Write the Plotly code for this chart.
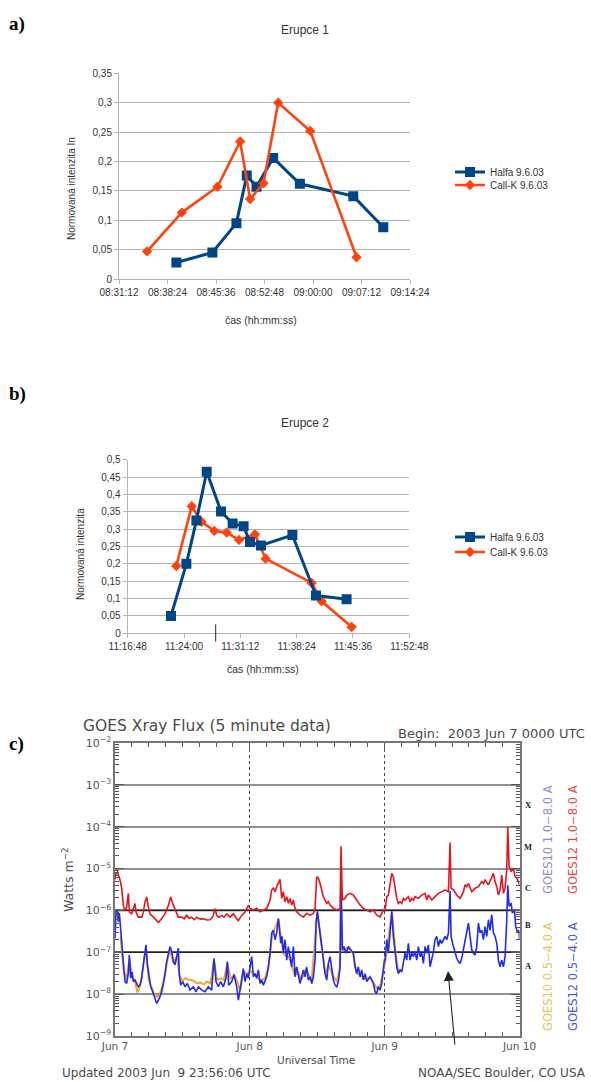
import plotly.graph_objects as go

W, H = 591, 1082


def px(x):
    return x / W


def py(y):
    return 1 - y / H


DAY = "2003-06-09 "

# ---- Erupce 1 ----
e1_halfa_time = ["08:39:43", "08:45:04", "08:48:38", "08:50:10", "08:51:37",
                 "08:54:05", "08:58:03", "09:05:59", "09:10:26"]
e1_halfa_val = [0.028, 0.045, 0.095, 0.176, 0.157, 0.206, 0.162, 0.141, 0.088]
e1_callk_time = ["08:35:22", "08:40:31", "08:45:49", "08:49:11", "08:50:40",
                 "08:52:39", "08:54:50", "08:59:35", "09:06:28"]
e1_callk_val = [0.047, 0.113, 0.157, 0.234, 0.136, 0.163, 0.300, 0.252, 0.037]
e1_xticks = ["08:31:12", "08:38:24", "08:45:36", "08:52:48", "09:00:00",
             "09:07:12", "09:14:24"]
e1_yticks = [0, 0.05, 0.1, 0.15, 0.2, 0.25, 0.3, 0.35]
e1_ylabels = ["0", "0,05", "0,1", "0,15", "0,2", "0,25", "0,3", "0,35"]

# ---- Erupce 2 ----
e2_halfa_time = ["11:22:20", "11:24:18", "11:25:35", "11:26:54", "11:28:44",
                 "11:30:13", "11:31:37", "11:32:26", "11:33:50", "11:37:51",
                 "11:40:52", "11:44:47"]
e2_halfa_val = [0.050, 0.200, 0.325, 0.465, 0.351, 0.316, 0.308, 0.263,
                0.253, 0.283, 0.109, 0.098]
e2_callk_time = ["11:23:01", "11:24:59", "11:26:15", "11:27:53", "11:29:27",
                 "11:31:02", "11:33:04", "11:34:26", "11:40:19", "11:41:36",
                 "11:45:26"]
e2_callk_val = [0.194, 0.366, 0.321, 0.295, 0.290, 0.269, 0.285, 0.215,
                0.145, 0.092, 0.018]
e2_xticks = ["11:16:48", "11:24:00", "11:31:12", "11:38:24", "11:45:36",
             "11:52:48"]
e2_yticks = [0, 0.05, 0.1, 0.15, 0.2, 0.25, 0.3, 0.35, 0.4, 0.45, 0.5]
e2_ylabels = ["0", "0,05", "0,1", "0,15", "0,2", "0,25", "0,3", "0,35",
              "0,4", "0,45", "0,5"]
e2_marker_time = "11:28:03"

# ---- GOES X-ray flux, hours since 2003 Jun 7 00:00 UTC ----
goes12_long_h = [
    0.0, 0.18, 0.42, 0.89, 1.19, 1.48, 1.78, 2.08, 2.37, 2.55, 2.97, 3.26,
    3.56, 3.74, 4.15, 4.75, 5.04, 5.34, 5.64, 5.94, 6.23, 6.83, 7.42, 7.72,
    8.31, 8.90, 9.50, 9.91, 10.39, 10.98, 11.28, 11.87, 12.3, 12.76, 13.2,
    13.65, 14.1, 14.54, 15.2, 15.73, 16.3, 16.91, 17.4, 17.81, 18.10, 18.5,
    18.99, 19.4, 19.88, 20.48, 21.07, 21.5, 21.96, 22.55, 23.15, 23.74,
    24.04, 24.63, 25.22, 25.82, 26.41, 27.01, 27.60, 27.89, 28.19, 28.49,
    28.78, 29.08, 29.37, 29.67, 29.97, 30.26, 30.56, 30.86, 31.15, 31.45,
    31.75, 32.04, 32.34, 32.94, 33.53, 34.12, 34.72, 35.31, 35.61, 35.90,
    36.20, 36.50, 36.79, 37.09, 37.68, 37.98, 38.28, 38.87, 39.46, 40.06,
    40.23, 40.47, 40.95, 41.24, 41.84, 42.43, 43.02, 43.62, 44.21, 44.81,
    45.40, 45.99, 46.59, 47.18, 47.78,
    48.07, 48.37, 48.66, 48.96, 49.26, 49.55, 49.85, 50.15, 50.44, 50.74,
    51.04, 51.33, 51.63, 52.22, 52.52, 52.82, 53.11, 53.41, 54.00, 54.60,
    55.19, 55.49, 55.79, 56.38, 56.97, 57.57, 58.16, 58.75, 59.35, 59.64,
    59.82, 60.24, 60.83, 61.42, 62.02, 62.31, 62.61, 62.91, 63.50, 64.09,
    64.69, 65.28, 65.58, 65.87, 66.47, 67.06, 67.36, 67.65, 67.95, 68.25,
    68.54, 68.84, 69.14, 69.43, 69.73, 69.91, 70.15, 70.50, 70.92, 71.22,
    71.51, 71.81, 72.0]
goes12_long_flux = [
    5.5e-6, 7.8e-6, 8.3e-6, 5.4e-6, 3.4e-6, 1.32e-6, 1.0e-6, 1.2e-6, 2.55e-6,
    9.1e-7, 8.3e-7, 1.1e-6, 1.46e-6, 9.1e-7, 6.9e-7, 6.9e-7, 9.1e-7, 1.6e-6,
    2.1e-6, 1.2e-6, 8.3e-7, 6.9e-7, 5.7e-7, 5.2e-7, 6.3e-7, 8.3e-7, 1.32e-6,
    2.1e-6, 1.32e-6, 9.1e-7, 6.9e-7, 6.9e-7, 6.3e-7, 7.6e-7, 6.4e-7, 6.9e-7,
    6.0e-7, 6.9e-7, 6.2e-7, 6.3e-7, 5.9e-7, 6.0e-7, 7.0e-7, 1.1e-6, 7.6e-7,
    6.8e-7, 7.6e-7, 6.9e-7, 8.3e-7, 6.9e-7, 8.3e-7, 6.8e-7, 5.7e-7, 7.6e-7,
    9.1e-7, 1.32e-6,
    1.12e-6, 1.02e-6, 1.12e-6, 9.3e-7, 1.02e-6, 1.12e-6, 1.77e-6, 3.1e-6,
    3.4e-6, 2.8e-6, 3.7e-6, 4.4e-6, 5.5e-6, 1.94e-6, 2.8e-6, 1.61e-6,
    2.13e-6, 1.47e-6, 1.94e-6, 1.34e-6, 1.77e-6, 1.12e-6, 9.3e-7, 7.7e-7,
    7.0e-7, 8.5e-7, 7.7e-7, 8.5e-7, 1.12e-6, 6.4e-6, 5.9e-6, 4.4e-6, 2.8e-6,
    2.13e-6, 1.47e-6, 1.61e-6, 1.34e-6, 1.12e-6, 1.02e-6, 1.12e-6, 3.4e-5,
    1.77e-6, 1.94e-6, 2.33e-6, 2.56e-6, 2.33e-6, 1.77e-6, 1.34e-6, 1.12e-6,
    1.02e-6, 9.3e-7, 1.02e-6, 7.7e-7, 7.0e-7, 1.02e-6,
    1.02e-6, 2.13e-6, 2.33e-6, 4.4e-6, 7.7e-6, 6.4e-6, 3.7e-6, 1.94e-6,
    1.47e-6, 1.61e-6, 1.47e-6, 1.94e-6, 1.77e-6, 2.13e-6, 1.61e-6, 1.94e-6,
    1.77e-6, 2.13e-6, 1.94e-6, 2.33e-6, 2.56e-6, 1.77e-6, 2.33e-6, 1.77e-6,
    2.13e-6, 2.56e-6, 2.8e-6, 3.1e-6, 2.8e-6, 4.2e-5, 3.4e-6, 3.1e-6, 2.33e-6,
    1.94e-6, 2.8e-6, 4.1e-6, 3.7e-6, 4.4e-6, 2.8e-6, 3.4e-6, 3.7e-6, 4.9e-6,
    4.4e-6, 5.3e-6, 4.1e-6, 6.4e-6, 7.7e-6, 4.9e-6, 3.7e-6, 2.33e-6, 3.1e-6,
    7.0e-6, 2.56e-6, 3.4e-6, 9.3e-6, 1.0e-4, 1.12e-5, 8.5e-6, 1.02e-5, 6.4e-6,
    5.9e-6, 4.9e-6, 4.1e-6]

goes12_short_h = [
    0.0, 0.18, 0.42, 0.59, 0.77, 1.01, 1.19, 1.37, 1.60, 1.78, 2.08, 2.37,
    2.55, 2.79, 3.03, 3.26, 3.56, 3.86, 4.15, 4.45, 4.75, 5.04, 5.34, 5.52,
    5.76, 6.11, 6.35, 6.71, 7.12, 7.42, 7.89, 8.31, 8.61, 8.90, 9.20, 9.50,
    9.79, 10.09, 10.39, 10.68, 10.98, 11.28, 11.45, 11.69, 12.05, 12.46,
    12.88, 13.35, 13.95, 14.42, 14.84, 15.43, 16.02, 16.62, 17.21, 17.63,
    17.98, 18.40, 18.81, 19.29, 19.76, 20.00, 20.24, 20.77, 21.19, 21.66,
    21.96, 22.26, 22.55, 22.85, 23.15, 23.44, 23.74,
    24.04, 24.33, 24.63, 24.93, 25.22, 25.52, 25.82, 26.11, 26.41, 26.71,
    27.00, 27.30, 27.60, 27.89, 28.19, 28.49, 28.78, 29.08, 29.26, 29.50,
    29.73, 29.97, 30.27, 30.56, 30.86, 31.16, 31.45, 31.75, 32.05, 32.34,
    32.64, 32.94, 33.23, 33.53, 33.83, 34.12, 34.42, 34.72, 35.02, 35.31,
    35.61, 35.79, 36.02, 36.26, 36.50, 36.79, 37.09, 37.39, 37.69, 37.98,
    38.28, 38.58, 38.87, 39.17, 39.47, 39.76, 40.06, 40.24, 40.47, 40.77,
    41.13, 41.54, 41.96, 42.43, 42.73, 43.03, 43.32, 43.62, 43.92, 44.21,
    44.51, 44.81, 45.40, 45.70, 45.99, 46.29, 46.59, 46.88, 47.18, 47.48,
    47.77, 47.95,
    48.07, 48.37, 48.66, 48.96, 49.26, 49.55, 49.85, 50.15, 50.44, 50.74,
    51.04, 51.33, 51.63, 51.93, 52.22, 52.52, 52.82, 53.11, 53.41, 53.71,
    54.00, 54.30, 54.60, 54.89, 55.19, 55.49, 55.79, 56.08, 56.38, 56.68,
    56.97, 57.27, 57.57, 57.86, 58.16, 58.46, 58.75, 59.05, 59.35, 59.64,
    59.82, 60.24, 60.53, 60.83, 61.13, 61.42, 61.72, 62.02, 62.31, 62.61,
    62.91, 63.20, 63.50, 63.80, 64.09, 64.39, 64.69, 64.98, 65.28, 65.58,
    65.87, 66.17, 66.47, 66.76, 67.06, 67.36, 67.65, 67.95, 68.25, 68.54,
    68.84, 69.14, 69.43, 69.73, 69.91, 70.15, 70.50, 70.74, 71.10, 71.33,
    71.69, 71.93, 72.0]
goes12_short_flux = [
    2.17e-7, 9.5e-7, 1.04e-6, 5.4e-7, 8.6e-7, 2.6e-7, 1.8e-7, 8.6e-8, 2.9e-8,
    2.0e-8, 1.8e-8, 3.1e-8, 8.6e-8, 2.4e-8, 3.4e-8, 2.0e-8, 2.17e-8, 1.8e-8,
    1.5e-8, 1.64e-8, 2.4e-8, 5.0e-8, 8.6e-8, 1.5e-7, 5.0e-8, 2.0e-8, 1.5e-8,
    1.14e-8, 7.2e-9, 6.0e-9, 7.9e-9, 1.14e-8, 1.8e-8, 2.9e-8, 6.0e-8, 8.6e-8,
    1.37e-7, 1.04e-7, 6.0e-8, 5.0e-8, 8.6e-8, 1.25e-7, 2.9e-8, 1.64e-8,
    2.0e-8, 1.5e-8, 1.8e-8, 1.25e-8, 1.5e-8, 1.14e-8, 1.5e-8, 1.25e-8,
    1.14e-8, 1.5e-8, 1.25e-8, 7.2e-8, 2.0e-8, 1.5e-8, 2.0e-8, 1.5e-8,
    2.4e-8, 6.0e-8, 1.64e-8, 2.0e-8, 2.9e-8, 1.5e-8, 7.2e-9, 1.37e-8,
    2.4e-8, 4.1e-8, 2.0e-8, 3.1e-8, 2.4e-8,
    4.5e-8, 7.9e-8, 2.6e-8, 3.1e-8, 2.4e-8, 3.8e-8, 1.8e-8, 2.17e-8, 1.64e-8,
    2.17e-8, 2.6e-8, 4.5e-8, 9.5e-8, 2.9e-7, 3.4e-7, 2.0e-7, 2.9e-7, 6.5e-7,
    2.9e-7, 1.64e-7, 2.4e-7, 9.5e-8, 2.0e-7, 6.5e-8, 1.37e-7, 7.9e-8, 4.5e-8,
    1.37e-7, 2.6e-8, 4.5e-8, 3.1e-8, 1.8e-8, 2.6e-8, 3.8e-8, 2.6e-8, 4.5e-8,
    2.17e-8, 2.6e-8, 1.8e-8, 2.6e-8, 6.5e-8, 5.0e-7, 9.5e-7, 5.0e-7, 3.4e-7,
    1.64e-7, 6.5e-8, 3.1e-8, 2.17e-8, 5.4e-8, 7.9e-8, 3.8e-8, 2.17e-8,
    1.64e-8, 1.5e-8, 2.0e-8, 4.5e-8, 3.8e-6, 1.14e-7, 1.37e-7, 9.5e-8,
    1.37e-7, 1.14e-7, 9.5e-8, 4.5e-8, 3.1e-8, 4.5e-8, 2.6e-8, 3.8e-8,
    2.17e-8, 3.1e-8, 2.0e-8, 2.6e-8, 2.17e-8, 1.8e-8, 1.14e-8, 1.04e-8,
    1.5e-8, 1.25e-8, 1.8e-8, 4.5e-8, 6.5e-8,
    6.5e-8, 2.0e-7, 9.5e-8, 3.4e-7, 9.5e-7, 2.4e-7, 1.14e-7, 4.5e-8, 3.1e-8,
    3.8e-8, 3.4e-8, 5.4e-8, 9.5e-8, 6.5e-8, 1.64e-7, 6.5e-8, 9.5e-8, 7.9e-8,
    1.04e-7, 6.5e-8, 1.37e-7, 7.9e-8, 9.5e-8, 5.4e-8, 1.37e-7, 9.5e-8,
    1.5e-7, 4.5e-8, 6.5e-8, 1.04e-7, 2.0e-7, 2.4e-7, 1.37e-7, 2.0e-7,
    1.64e-7, 2.0e-7, 2.4e-7, 2.0e-7, 2.9e-7, 2.9e-6, 2.4e-7, 1.37e-7,
    9.5e-8, 7.2e-8, 6.0e-8, 5.4e-8, 7.2e-8, 1.14e-7, 1.64e-7, 2.6e-7,
    5.0e-7, 2.4e-7, 1.14e-7, 9.5e-8, 8.6e-8, 1.37e-7, 5.0e-7, 2.9e-7,
    3.4e-7, 2.0e-7, 4.1e-7, 2.4e-7, 6.0e-7, 3.4e-7, 7.9e-7, 2.9e-7, 2.4e-7,
    1.64e-7, 6.5e-8, 4.5e-8, 6.5e-8, 4.5e-8, 7.9e-8, 6.0e-7, 4.0e-6,
    1.25e-6, 1.5e-6, 8.6e-7, 1.04e-6, 4.1e-7, 2.9e-7, 3.4e-7, 2.0e-7]

goes10_short_h = [
    1.0, 1.5, 2.0, 2.6, 3.0, 3.6, 4.0, 4.5, 5.0, 5.5, 6.0, 6.5, 7.0, 7.5,
    8.0, 8.6, 9.2, 9.8, 10.4, 11.0, 11.5, 12.0, 12.6, 13.2, 14.0, 14.6,
    15.2, 15.8, 16.4, 17.0, 17.6, 18.2, 18.8, 19.4, 20.0, 20.6, 21.2, 21.8,
    22.3, 22.9, 23.5, 24.2, 25.0, 25.8, 26.6, 27.3, 28.0, 29.1, 30.0, 31.0,
    32.0, 32.6, 33.2, 34.0, 35.0, 35.8, 36.0, 36.8, 37.4, 38.0, 38.9, 39.5,
    40.0, 40.2, 40.5, 41.5, 42.4, 43.0, 43.6, 44.2, 44.8, 45.4, 46.0, 46.6,
    47.2, 47.8, 48.1, 49.3, 49.9, 50.4, 51.0]
goes10_short_flux = [
    2.4e-7, 4.0e-8, 2.2e-8, 7.0e-8, 3.0e-8, 1.9e-8, 1.1e-8, 1.6e-8, 4.5e-8,
    1.3e-7, 2.2e-8, 1.5e-8, 1.0e-8, 8.5e-9, 1.0e-8, 1.9e-8, 5.5e-8, 1.2e-7,
    5.5e-8, 8.0e-8, 2.8e-8, 2.1e-8, 2.4e-8, 2.2e-8, 2.1e-8, 1.8e-8, 1.9e-8,
    1.7e-8, 2.0e-8, 1.8e-8, 6.5e-8, 2.2e-8, 2.4e-8, 2.2e-8, 5.5e-8, 2.3e-8,
    2.9e-8, 1.9e-8, 1.2e-8, 3.5e-8, 3.0e-8, 3.5e-8, 2.8e-8, 2.2e-8, 2.3e-8,
    4.2e-8, 2.7e-7, 6.0e-7, 9.0e-8, 7.5e-8, 2.8e-8, 3.3e-8, 2.2e-8, 4.0e-8,
    2.1e-8, 4.8e-7, 9.0e-7, 1.5e-7, 3.0e-8, 5.0e-8, 2.6e-8, 2.0e-8, 4.0e-8,
    3.5e-6, 1.1e-7, 1.3e-7, 9.0e-8, 3.3e-8, 2.8e-8, 2.4e-8, 2.3e-8, 2.5e-8,
    1.9e-8, 1.4e-8, 1.6e-8, 4.0e-8, 6.0e-8, 9.0e-7, 1.1e-7, 3.6e-8, 3.8e-8]

goes_day_hours = [0, 24, 48, 72]
goes_day_labels = ["Jun 7", "Jun 8", "Jun 9", "Jun 10"]
goes_decades = [1e-9, 1e-8, 1e-7, 1e-6, 1e-5, 1e-4, 1e-3, 1e-2]
goes_decade_labels = ["10<sup>−9</sup>", "10<sup>−8</sup>", "10<sup>−7</sup>",
                      "10<sup>−6</sup>", "10<sup>−5</sup>", "10<sup>−4</sup>",
                      "10<sup>−3</sup>", "10<sup>−2</sup>"]
goes_dark_levels = [1e-6, 1e-7]
flare_classes = ["X", "M", "C", "B", "A"]
flare_class_y = [805, 847, 888, 925, 966]

BLUE = "#004586"
ORANGE = "#ff420e"
GRID = "#b3b3b3"
SANS = "Liberation Sans"
GOESFONT = "DejaVu Sans"

fig = go.Figure()

# Erupce 1
fig.add_trace(go.Scatter(
    x=[DAY + t for t in e1_halfa_time], y=e1_halfa_val, name="Halfa 9.6.03",
    mode="lines+markers", line=dict(color=BLUE, width=3),
    marker=dict(symbol="square", size=10, color=BLUE),
    xaxis="x", yaxis="y", legend="legend"))
fig.add_trace(go.Scatter(
    x=[DAY + t for t in e1_callk_time], y=e1_callk_val, name="Call-K 9.6.03",
    mode="lines+markers", line=dict(color=ORANGE, width=2.6),
    marker=dict(symbol="diamond", size=8, color=ORANGE),
    xaxis="x", yaxis="y", legend="legend2"))

# Erupce 2
fig.add_trace(go.Scatter(
    x=[DAY + t for t in e2_callk_time], y=e2_callk_val, name="Call-K 9.6.03",
    mode="lines+markers", line=dict(color=ORANGE, width=2.6),
    marker=dict(symbol="diamond", size=8, color=ORANGE),
    xaxis="x2", yaxis="y2", legend="legend4"))
fig.add_trace(go.Scatter(
    x=[DAY + t for t in e2_halfa_time], y=e2_halfa_val, name="Halfa 9.6.03",
    mode="lines+markers", line=dict(color=BLUE, width=3),
    marker=dict(symbol="square", size=10, color=BLUE),
    xaxis="x2", yaxis="y2", legend="legend3"))

# GOES reference levels
for lvl in goes_dark_levels:
    fig.add_trace(go.Scatter(
        x=[goes_day_hours[0], goes_day_hours[-1]], y=[lvl, lvl], mode="lines",
        line=dict(color="#222222", width=1.5), showlegend=False,
        hoverinfo="skip", xaxis="x3", yaxis="y3"))

fig.add_trace(go.Scatter(
    x=goes10_short_h, y=goes10_short_flux, mode="lines",
    line=dict(color="#f2a52a", width=2), showlegend=False,
    xaxis="x3", yaxis="y3"))
fig.add_trace(go.Scatter(
    x=goes12_short_h, y=goes12_short_flux, mode="lines",
    line=dict(color="#1f2cf0", width=1.6), showlegend=False,
    xaxis="x3", yaxis="y3"))
fig.add_trace(go.Scatter(
    x=goes12_long_h, y=goes12_long_flux, mode="lines",
    line=dict(color="#e8141c", width=1.6), showlegend=False,
    xaxis="x3", yaxis="y3"))

tick_font = dict(family=SANS, size=10, color="#333333")
legend_font = dict(family=SANS, size=10, color="#333333")

fig.update_layout(
    width=W, height=H,
    margin=dict(l=0, r=0, t=0, b=0, pad=0, autoexpand=False),
    paper_bgcolor="white", plot_bgcolor="white",
    font=dict(family=SANS, color="#333333"),
    xaxis=dict(
        domain=[px(119), px(410)], anchor="y", type="date",
        range=[DAY + e1_xticks[0], DAY + e1_xticks[-1]],
        tickvals=[DAY + t for t in e1_xticks], ticktext=e1_xticks,
        ticks="outside", ticklen=4, tickcolor=GRID, showline=True,
        linecolor=GRID, showgrid=False, zeroline=False, tickfont=tick_font),
    yaxis=dict(
        domain=[py(279), py(73.3)], anchor="x", range=[0, 0.35],
        tickvals=e1_yticks, ticktext=e1_ylabels, ticks="outside", ticklen=4,
        tickcolor=GRID, showline=True, linecolor=GRID, gridcolor=GRID,
        zeroline=False, tickfont=tick_font),
    xaxis2=dict(
        domain=[px(127.7), px(409.3)], anchor="y2", type="date",
        range=[DAY + e2_xticks[0], DAY + e2_xticks[-1]],
        tickvals=[DAY + t for t in e2_xticks], ticktext=e2_xticks,
        ticks="outside", ticklen=4, tickcolor=GRID, showline=True,
        linecolor=GRID, showgrid=False, zeroline=False, tickfont=tick_font),
    yaxis2=dict(
        domain=[py(633.3), py(459.7)], anchor="x2", range=[0, 0.5],
        tickvals=e2_yticks, ticktext=e2_ylabels, ticks="outside", ticklen=4,
        tickcolor=GRID, showline=True, linecolor=GRID, gridcolor=GRID,
        zeroline=False, tickfont=tick_font),
    xaxis3=dict(
        domain=[px(115), px(519.5)], anchor="y3", range=[0, 72],
        tickvals=goes_day_hours, ticktext=goes_day_labels,
        ticks="inside", ticklen=9, tickcolor="#555555", tickwidth=1.2,
        showline=True, linecolor="#777777", linewidth=1.5, mirror="allticks",
        showgrid=True, gridcolor="#444444", griddash="dot", gridwidth=1.2,
        zeroline=False,
        minor=dict(dtick=3, ticks="inside", ticklen=4, tickcolor="#555555",
                   showgrid=False),
        tickfont=dict(family=GOESFONT, size=10.5, color="#555555")),
    yaxis3=dict(
        domain=[py(1036), py(743)], anchor="x3", type="log", range=[-9, -2],
        tickvals=goes_decades, ticktext=goes_decade_labels,
        ticks="inside", ticklen=9, tickcolor="#555555", tickwidth=1.2,
        showline=True, linecolor="#777777", linewidth=1.5, mirror="allticks",
        showgrid=True, gridcolor="#8f8f8f", gridwidth=1.5, zeroline=False,
        minor=dict(dtick="D1", ticks="inside", ticklen=4, tickcolor="#555555",
                   showgrid=False),
        tickfont=dict(family=GOESFONT, size=11, color="#555555")),
    legend=dict(x=px(450), y=py(172), xanchor="left", yanchor="middle",
                font=legend_font, bgcolor="rgba(0,0,0,0)"),
    legend2=dict(x=px(450), y=py(185), xanchor="left", yanchor="middle",
                 font=legend_font, bgcolor="rgba(0,0,0,0)"),
    legend3=dict(x=px(450), y=py(537), xanchor="left", yanchor="middle",
                 font=legend_font, bgcolor="rgba(0,0,0,0)"),
    legend4=dict(x=px(450), y=py(552), xanchor="left", yanchor="middle",
                 font=legend_font, bgcolor="rgba(0,0,0,0)"),
)

# stray tick under the Erupce 2 time axis
fig.add_shape(type="line", xref="x2", yref="paper",
              x0=DAY + e2_marker_time, x1=DAY + e2_marker_time,
              y0=py(641.7), y1=py(624.5), line=dict(color="#222222", width=1))


def note(text, x, y, size, color="#333333", family=SANS, angle=0,
         xanchor="center", yanchor="middle"):
    fig.add_annotation(text=text, x=px(x), y=py(y), xref="paper",
                       yref="paper", showarrow=False, textangle=angle,
                       xanchor=xanchor, yanchor=yanchor,
                       font=dict(family=family, size=size, color=color))


# panel letters
for letter, yy in (("a)", 24), ("b)", 394), ("c)", 744)):
    note("<b>" + letter + "</b>", 7, yy, 19, color="#000000",
         family="Liberation Serif", xanchor="left")

# Erupce titles and axis titles
note("Erupce 1", 305, 30, 12)
note("Erupce 2", 305, 423, 12)
note("Normovaná intenzita In", 71, 189, 10, angle=-90)
note("Normovaná intenzita", 80, 554, 10, angle=-90)
note("čas (hh:mm:ss)", 261, 320, 10.5)
note("čas (hh:mm:ss)", 263, 669, 10.5)

# GOES texts
note("GOES Xray Flux (5 minute data)", 81, 726, 15.5, color="#4a4a4a",
     family=GOESFONT, xanchor="left")
note("Begin:\u00a0\u00a02003 Jun 7 0000 UTC", 587, 733, 13,
     color="#4a4a4a", family=GOESFONT, xanchor="right")
note("Watts m<sup>−2</sup>", 68, 880, 12.5, color="#4a4a4a", family=GOESFONT,
     angle=-90)
note("Universal Time", 316, 1060, 10.5, color="#4a4a4a", family=GOESFONT)
note("Updated 2003 Jun\u00a0\u00a09 23:56:06 UTC", 60, 1073, 12,
     color="#4a4a4a", family=GOESFONT, xanchor="left")
note("NOAA/SEC Boulder, CO USA", 588, 1073, 12, color="#4a4a4a",
     family=GOESFONT, xanchor="right")

for cls, yy in zip(flare_classes, flare_class_y):
    note("<b>" + cls + "</b>", 528, yy, 8.5, color="#222222",
         family="Liberation Serif")

note("GOES10 1.0−8.0 A", 548, 840, 11.5, color="#9a86cc", family=GOESFONT,
     angle=-90)
note("GOES12 1.0−8.0 A", 573, 840, 11.5, color="#e5474e", family=GOESFONT,
     angle=-90)
note("GOES10 0.5−4.0 A", 548, 977, 11.5, color="#f0c15a", family=GOESFONT,
     angle=-90)
note("GOES12 0.5−4.0 A", 573, 977, 11.5, color="#4b55e0", family=GOESFONT,
     angle=-90)

# arrow pointing at the Jun 9 event
fig.add_annotation(x=px(448), y=py(971), xref="paper", yref="paper",
                   ax=7, ay=75, axref="pixel", ayref="pixel", text="",
                   showarrow=True, arrowhead=2, arrowsize=1.8,
                   arrowwidth=1.1, arrowcolor="#222222")

fig.write_html("out.html")
